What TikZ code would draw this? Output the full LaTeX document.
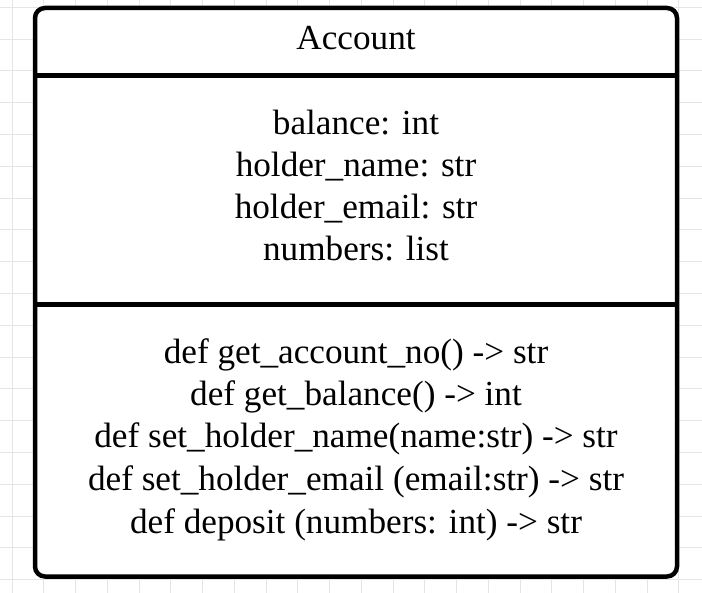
\documentclass[tikz,border=0pt]{standalone}
\usepackage{fontspec}
\setmainfont{Liberation Serif}
\usepackage{tikz}
\usetikzlibrary{positioning, calc}

\begin{document}
\begin{tikzpicture}[x=1pt, y=-1pt,
  gridline/.style={draw=black!10, line width=0.8pt},
  classbox/.style={draw, line width=4.5pt, fill=white, rounded corners=10pt},
  divider/.style={draw, line width=4.5pt},
  member/.style={anchor=base, inner sep=0pt, font=\fontsize{35.2}{42}\selectfont}]
\useasboundingbox (0,0) rectangle (702,593);
\fill[white] (0,0) rectangle (702,593);

% Grid
\foreach \i in {0,...,22} {
  \draw[gridline] (12+31.75*\i,0) -- (12+31.75*\i,593);
}
\foreach \j in {0,...,18} {
  \draw[gridline] (0,7.2+31.8*\j) -- (702,7.2+31.8*\j);
}

% Class box
\draw[classbox] (35,8) rectangle (677,576.5);
\coordinate (D1L) at (35,75.5);
\coordinate (D1R) at (677,75.5);
\coordinate (D2L) at (35,304.5);
\coordinate (D2R) at (677,304.5);
\draw[divider] (D1L) -- (D1R);
\draw[divider] (D2L) -- (D2R);

% Class name
\node (name) [member] at (356,50) {Account};

% Attributes
\node (balance) [member] at (356,135) {balance: int};
\node (holdername) [member] at (356,177) {holder\_name: str};
\node (holderemail) [member] at (356,219) {holder\_email: str};
\node (numbers) [member] at (356,261) {numbers: list};

% Methods
\node (accountno) [member] at (356,364) {def get\_account\_no() -> str};
\node (getbalance) [member] at (356,406) {def get\_balance() -> int};
\node (setname) [member] at (356,448) {def set\_holder\_name(name:str) -> str};
\node (setemail) [member] at (356,491) {def set\_holder\_email (email:str) -> str};
\node (deposit) [member] at (356,533) {def deposit (numbers: int) -> str};
\end{tikzpicture}
\end{document}
